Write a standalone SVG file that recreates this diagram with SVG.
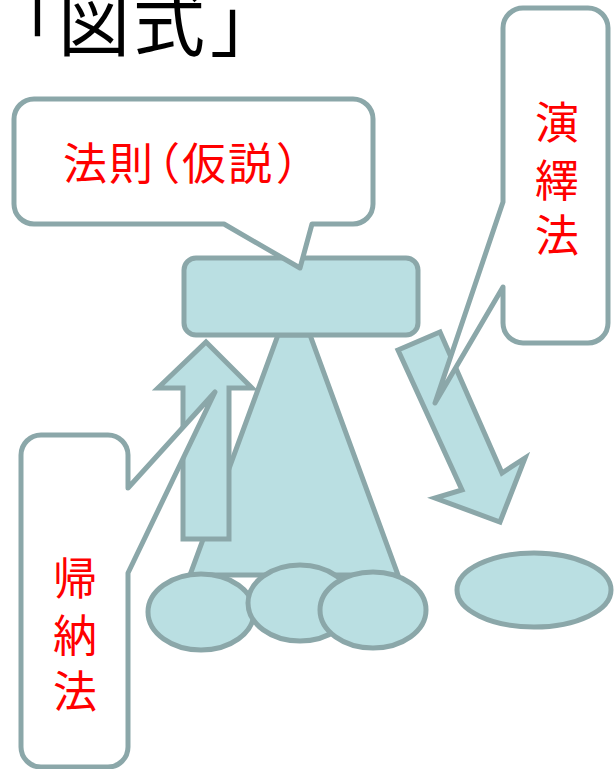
<svg xmlns="http://www.w3.org/2000/svg" width="614" height="769" viewBox="0 0 614 769">
<style>
.shape{fill:#BADFE2;stroke:#8BA7A9;stroke-width:5;stroke-linejoin:miter}
.callout{fill:#FFFFFF;stroke:#8BA7A9;stroke-width:5;stroke-linejoin:round}
.lbl{fill:#FF0000;font-family:"Noto Sans CJK JP","Noto Sans CJK SC",sans-serif;font-size:44px}
.title{fill:#000000;font-family:"Noto Sans CJK JP","Noto Sans CJK SC",sans-serif;font-size:72px}
</style>
<g id="title">
<text class="title" y="50"><tspan x="-12">「</tspan><tspan x="58">図</tspan><tspan x="133">式</tspan><tspan x="210">」</tspan></text>
</g>
<g id="pyramid">
<polygon class="shape" points="278,335 310,335 398,575 190,575"/>
</g>
<g id="law-box">
<rect class="shape" x="184" y="258" width="234" height="77" rx="12" ry="12"/>
</g>
<g id="cases">
<ellipse class="shape" cx="201" cy="612" rx="53" ry="38"/>
<ellipse class="shape" cx="300" cy="603" rx="52" ry="38"/>
<ellipse class="shape" cx="373" cy="610" rx="53" ry="38"/>
</g>
<g id="new-case">
<ellipse class="shape" cx="534" cy="590" rx="77" ry="37"/>
</g>
<g id="connectors">
<polygon id="induction-arrow" class="shape" points="206,342 252,388 229,388 229,539 183,539 183,388 158,388"/>
<polygon id="deduction-arrow" class="shape" points="398,350 440,332 502,473 525,458 500,522 435,498 462,490"/>
</g>
<g id="callout-law">
<path class="callout" d="M34,99 H353 A20,20 0 0 1 373,119 V204 A20,20 0 0 1 353,224 H312 L300,268 L224,224 H34 A20,20 0 0 1 14,204 V119 A20,20 0 0 1 34,99 Z"/>
<text class="lbl" y="180"><tspan x="63">法</tspan><tspan x="109">則</tspan><tspan x="136">（</tspan><tspan x="182">仮</tspan><tspan x="228">説</tspan><tspan x="276">）</tspan></text>
</g>
<g id="callout-induction">
<path class="callout" d="M41,435 H108 A20,20 0 0 1 128,455 V488 L215,392 L128,573 V747 A20,20 0 0 1 108,767 H41 A20,20 0 0 1 21,747 V455 A20,20 0 0 1 41,435 Z"/>
<text class="lbl" x="75" y="595" text-anchor="middle">帰</text>
<text class="lbl" x="75" y="652" text-anchor="middle">納</text>
<text class="lbl" x="75" y="708" text-anchor="middle">法</text>
</g>
<g id="callout-deduction">
<path class="callout" d="M523,8 H588 A20,20 0 0 1 608,28 V323 A20,20 0 0 1 588,343 H523 A20,20 0 0 1 503,323 V287 L435,403 L503,202 V28 A20,20 0 0 1 523,8 Z"/>
<text class="lbl" x="557" y="139" text-anchor="middle">演</text>
<text class="lbl" x="557" y="197" text-anchor="middle">繹</text>
<text class="lbl" x="557" y="252" text-anchor="middle">法</text>
</g>
</svg>
